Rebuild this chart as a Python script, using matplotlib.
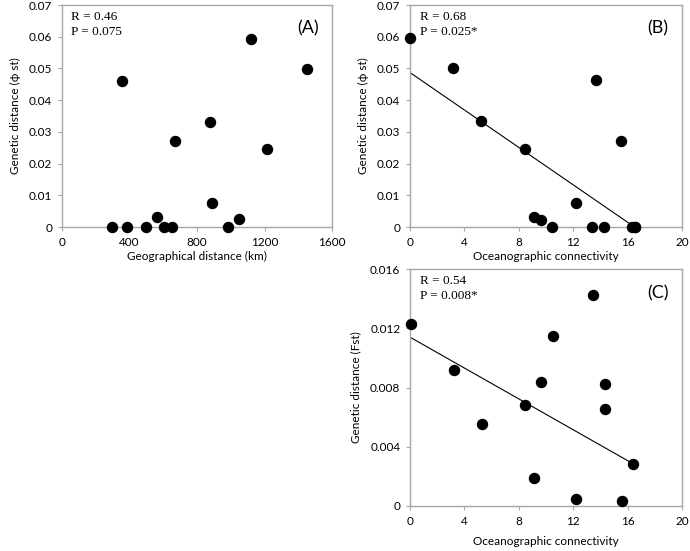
import numpy as np
import matplotlib
matplotlib.use('Agg')
import matplotlib.pyplot as plt

# Panel A: geographical distance vs genetic distance (phi st)
geo_km = [296, 355, 385, 500, 563, 606, 652, 668, 879, 891, 984, 1051, 1122, 1217, 1452]
phist_a = [0, 0.046, 0, 0, 0.0033, 0, 0, 0.0272, 0.0332, 0.0077, 0, 0.0026, 0.0592, 0.0247, 0.0498]

# Panel B: oceanographic connectivity vs genetic distance (phi st)
ocean_b = [0, 3.18, 5.24, 8.47, 9.1, 9.65, 10.46, 12.17, 13.4, 13.64, 14.3, 15.52, 16.33, 16.57, 16.57]
phist_b = [0.0595, 0.050, 0.0334, 0.0247, 0.0032, 0.0023, 0, 0.0077, 0, 0.0463, 0, 0.0272, 0, 0, 0]
# trendline: (intercept, slope)
fit_b = (0.0487, -0.00295)

# Panel C: oceanographic connectivity vs genetic distance (Fst)
ocean_c = [0.05, 3.24, 5.27, 8.49, 9.12, 9.66, 10.49, 12.24, 13.44, 14.32, 14.34, 15.59, 16.37]
fst_c = [0.01229, 0.0092, 0.00551, 0.0068, 0.00192, 0.00834, 0.0115, 0.00047, 0.01428, 0.00653, 0.00827, 0.00032, 0.00285]
fit_c = (0.0114, -0.000521)

label_font = 'Lato'
serif_font = 'Liberation Serif'
spine_col = '#a6a6a6'


def style_axes(ax):
    for s in ax.spines.values():
        s.set_color(spine_col)
        s.set_linewidth(1.0)
    ax.tick_params(direction='out', length=3, width=0.8, color=spine_col,
                   labelsize=8.5, pad=4)
    for lab in ax.get_xticklabels() + ax.get_yticklabels():
        lab.set_fontfamily(label_font)


def add_fit(ax, x, fit):
    # straight trendline over the data range (like Excel)
    b, m = fit
    xs = np.array([0, max(x)])
    xs[0] = min(x)
    ax.plot(xs, m * xs + b, color='black', lw=0.8, zorder=2)


def add_stats(ax, r_txt, p_txt, tag):
    ax.text(0.035, 0.975, r_txt + '\n' + p_txt, transform=ax.transAxes,
            ha='left', va='top', fontsize=9.5, family=serif_font, linespacing=1.35)
    ax.text(0.95, 0.93, tag, transform=ax.transAxes, ha='right', va='top',
            fontsize=13, family=label_font)


fig = plt.figure(figsize=(6.9, 5.51), dpi=100)

axA = fig.add_axes([0.0899, 0.588, 0.3913, 0.4029])
axB = fig.add_axes([0.5942, 0.588, 0.3942, 0.4029])
axC = fig.add_axes([0.5942, 0.0817, 0.3942, 0.430])

phi_ticks = [0, 0.01, 0.02, 0.03, 0.04, 0.05, 0.06, 0.07]
phi_labels = ['0', '0.01', '0.02', '0.03', '0.04', '0.05', '0.06', '0.07']

# (A)
axA.scatter(geo_km, phist_a, s=52, color='black', zorder=3, clip_on=False)
axA.set_xlim(0, 1600)
axA.set_ylim(0, 0.07)
axA.set_xticks([0, 400, 800, 1200, 1600])
axA.set_yticks(phi_ticks)
axA.set_yticklabels(phi_labels)
axA.set_xlabel('Geographical distance (km)', fontsize=8.5, family=label_font, labelpad=2)
axA.set_ylabel('Genetic distance (ϕ st)', fontsize=8.5, family=[label_font, 'DejaVu Sans'], labelpad=6)
style_axes(axA)
add_stats(axA, 'R = 0.46', 'P = 0.075', '(A)')

# (B)
axB.scatter(ocean_b, phist_b, s=52, color='black', zorder=3, clip_on=False)
add_fit(axB, ocean_b, fit_b)
axB.set_xlim(0, 20)
axB.set_ylim(0, 0.07)
axB.set_xticks([0, 4, 8, 12, 16, 20])
axB.set_yticks(phi_ticks)
axB.set_yticklabels(phi_labels)
axB.set_xlabel('Oceanographic connectivity', fontsize=8.5, family=label_font, labelpad=2)
axB.set_ylabel('Genetic distance (ϕ st)', fontsize=8.5, family=[label_font, 'DejaVu Sans'], labelpad=6)
style_axes(axB)
add_stats(axB, 'R = 0.68', 'P = 0.025*', '(B)')

# (C)
axC.scatter(ocean_c, fst_c, s=52, color='black', zorder=3, clip_on=False)
add_fit(axC, ocean_c, fit_c)
axC.set_xlim(0, 20)
axC.set_ylim(0, 0.016)
axC.set_xticks([0, 4, 8, 12, 16, 20])
axC.set_yticks([0, 0.004, 0.008, 0.012, 0.016])
axC.set_yticklabels(['0', '0.004', '0.008', '0.012', '0.016'])
axC.set_xlabel('Oceanographic connectivity', fontsize=8.5, family=label_font, labelpad=7)
axC.set_ylabel('Genetic distance (Fst)', fontsize=8.5, family=label_font, labelpad=6)
style_axes(axC)
add_stats(axC, 'R = 0.54', 'P = 0.008*', '(C)')

fig.savefig('out.png', dpi=100)
